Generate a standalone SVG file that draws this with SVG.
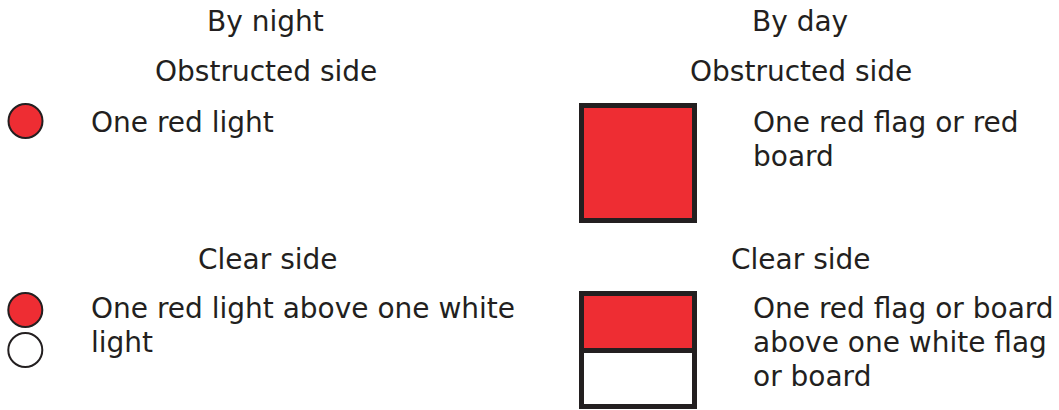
<svg xmlns="http://www.w3.org/2000/svg" width="1059" height="410" viewBox="0 0 1059 410">
<style>
text{font-family:"DejaVu Sans",Verdana,sans-serif;font-size:28px;fill:#231f20}
.red{fill:#ee2d33;stroke:#231f20}
.wht{fill:#ffffff;stroke:#231f20}
.lamp{stroke-width:2}
.flag{stroke-width:5}
</style>
<rect width="1059" height="410" fill="#ffffff"/>
<g id="headings">
<text x="207" y="31">By night</text>
<text x="752" y="31">By day</text>
<text x="155" y="81">Obstructed side</text>
<text x="690" y="81">Obstructed side</text>
<text x="198" y="269">Clear side</text>
<text x="731" y="269">Clear side</text>
</g>
<g id="night-obstructed">
<circle class="red lamp" cx="25.5" cy="121" r="17"/>
<text x="91" y="132">One red light</text>
</g>
<g id="day-obstructed">
<rect class="red flag" x="581.5" y="105.5" width="113" height="115"/>
<text x="753" y="132">One red flag or red</text>
<text x="753" y="166">board</text>
</g>
<g id="night-clear">
<circle class="red lamp" cx="25.3" cy="310" r="17"/>
<circle class="wht lamp" cx="25.3" cy="350" r="17"/>
<text x="91" y="318">One red light above one white</text>
<text x="91" y="352">light</text>
</g>
<g id="day-clear">
<rect class="red flag" x="581.5" y="293.5" width="113" height="57"/>
<rect class="wht flag" x="581.5" y="350.5" width="113" height="56"/>
<text x="753" y="318">One red flag or board</text>
<text x="753" y="352">above one white flag</text>
<text x="753" y="386">or board</text>
</g>
</svg>
